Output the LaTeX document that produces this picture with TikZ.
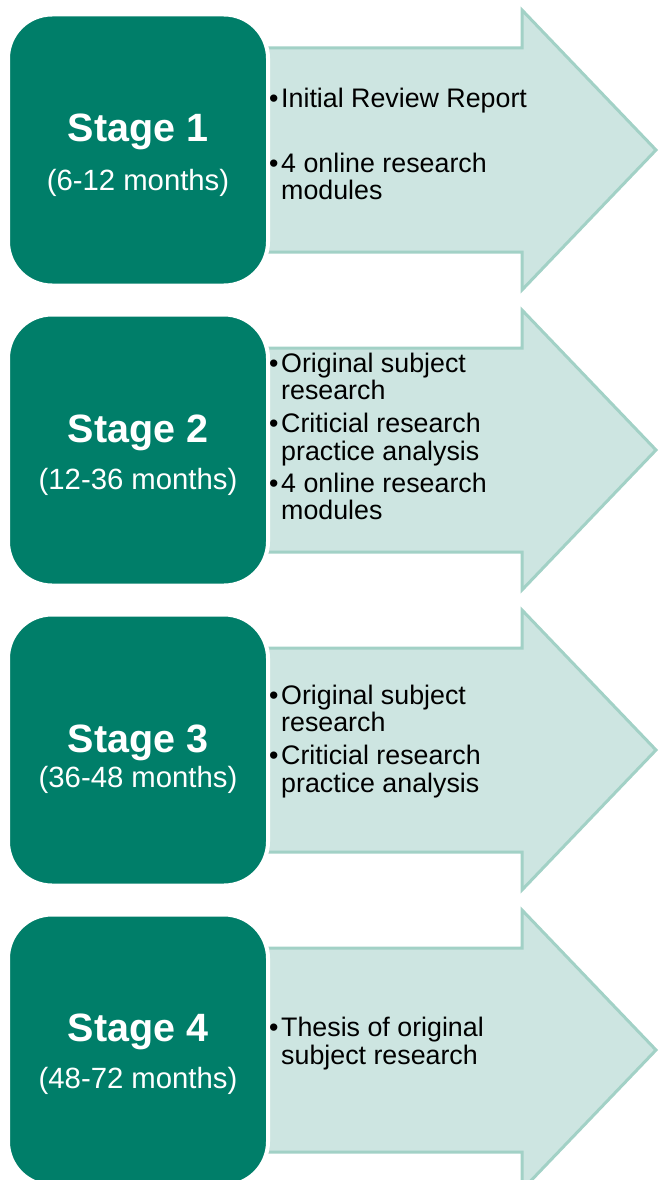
\documentclass[tikz,border=0pt]{standalone}
\usepackage{fontspec}
\setmainfont{Liberation Sans}
\definecolor{boxgreen}{HTML}{007E69}
\definecolor{arrfill}{HTML}{CDE5E1}
\definecolor{arrline}{HTML}{A2D1C6}
\tikzset{
  stagebox/.style={fill=boxgreen, draw=white, line width=4pt, rounded corners=44pt,
    minimum width=260pt, minimum height=271pt, inner sep=0pt},
  arrowshape/.style={fill=arrfill, draw=arrline, line width=3pt, line join=miter},
  title/.style={anchor=base, inner sep=0pt, text=white, font=\fontsize{39.5}{41}\selectfont\bfseries},
  sub/.style={anchor=base, inner sep=0pt, text=white, font=\fontsize{29.3}{31}\selectfont},
  bul/.style={anchor=base west, inner sep=0pt, font=\fontsize{26.8}{28}\selectfont},
  itm/.style={anchor=base west, inner sep=0pt, font=\fontsize{26.8}{28}\selectfont},
}
\begin{document}
\begin{tikzpicture}[x=1pt,y=-1pt]
\useasboundingbox (0,0) rectangle (659,1180);
\foreach \k/\yc in {1/150,2/450,3/750,4/1050}{
  \draw[arrowshape] (250,\yc-102) -- (522,\yc-102) -- (522,\yc-140) -- (656,\yc)
     -- (522,\yc+140) -- (522,\yc+102) -- (250,\yc+102) -- cycle;
  \node[stagebox] (s\k) at (138,\yc) {};
}
% Stage 1
\node[title] (t1) at (138,142) {Stage 1};
\node[sub] (u1) at (138,190) {(6-12 months)};
\node[bul] (b1a) at (269,108) {•};
\node[itm] (i1a) at (281,108) {Initial Review Report};
\node[bul] (b1b) at (269,172) {•};
\node[itm] (i1b) at (281,172) {4 online research};
\node[itm] (i1c) at (281,199) {modules};
% Stage 2
\node[title] (t2) at (138,442) {Stage 2};
\node[sub] (u2) at (138,489) {(12-36 months)};
\node[bul] (b2a) at (269,372) {•};
\node[itm] (i2a) at (281,372) {Original subject};
\node[itm] (i2b) at (281,399) {research};
\node[bul] (b2c) at (269,432) {•};
\node[itm] (i2c) at (281,432) {Criticial research};
\node[itm] (i2d) at (281,460) {practice analysis};
\node[bul] (b2e) at (269,492) {•};
\node[itm] (i2e) at (281,492) {4 online research};
\node[itm] (i2f) at (281,519) {modules};
% Stage 3
\node[title] (t3) at (138,752) {Stage 3};
\node[sub] (u3) at (138,787) {(36-48 months)};
\node[bul] (b3a) at (269,704) {•};
\node[itm] (i3a) at (281,704) {Original subject};
\node[itm] (i3b) at (281,731) {research};
\node[bul] (b3c) at (269,764) {•};
\node[itm] (i3c) at (281,764) {Criticial research};
\node[itm] (i3d) at (281,792) {practice analysis};
% Stage 4
\node[title] (t4) at (138,1041) {Stage 4};
\node[sub] (u4) at (138,1088) {(48-72 months)};
\node[bul] (b4a) at (269,1036) {•};
\node[itm] (i4a) at (281,1036) {Thesis of original};
\node[itm] (i4b) at (281,1064) {subject research};
\end{tikzpicture}
\end{document}
